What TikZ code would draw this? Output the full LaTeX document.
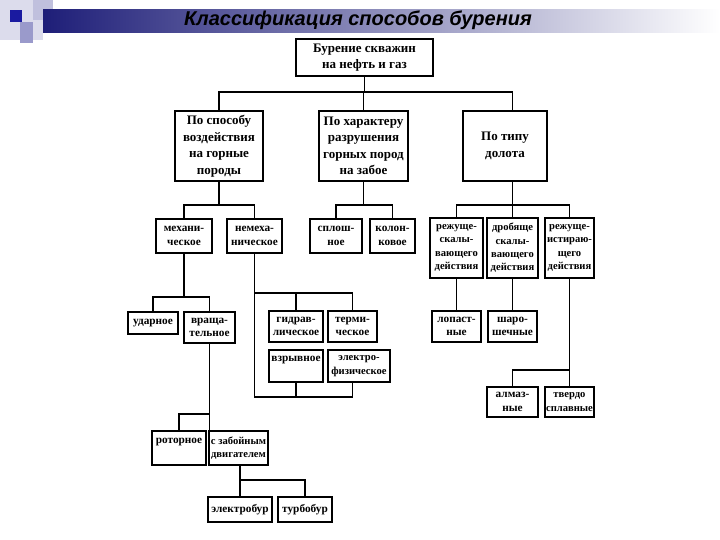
\documentclass[tikz,border=0pt]{standalone}
\usepackage{fontspec}
\setmainfont{Liberation Serif}
\newfontfamily\titlefont{Liberation Sans}
\definecolor{navyA}{HTML}{1E1E78}
\definecolor{darkSq}{HTML}{1A1AA0}
\definecolor{paleSq}{HTML}{DCDCEC}
\definecolor{midSq}{HTML}{9A9ACB}
\definecolor{lightSq}{HTML}{C0C0DD}
\newcommand{\mybox}[7][box]{\node[#1,minimum width={(#5)-(#3)},minimum height={(#6)-(#4)}] (#2) at ({((#3)+(#5))/2},{((#4)+(#6))/2}) {#7};}
\begin{document}
\begin{tikzpicture}[x=1pt,y=-1pt,
  box/.style={draw,line width=1.2pt,align=center,inner sep=0.5pt,font=\bfseries\fontsize{11.3}{13.5}\selectfont},
  tightbox/.style={box,font=\bfseries\fontsize{10.6}{13.3}\selectfont},
  bigbox/.style={box,font=\bfseries\fontsize{13}{16.5}\selectfont},
  conn/.style={line width=1.2pt}]
\useasboundingbox (0,0) rectangle (720,540);
\fill[white] (0,0) rectangle (720,540);
% header decoration
\fill[paleSq] (0,0) rectangle (43,40);
\fill[lightSq] (33,0) rectangle (53,20);
\fill[midSq] (20,22) rectangle (33,43);
\shade[left color=navyA, right color=white] (43,10) rectangle (720,33);
\fill[darkSq] (10,10) rectangle (22,22);
\node[font=\titlefont\bfseries\itshape\fontsize{20}{24}\selectfont] (title) at (358,20) {Классификация способов бурения};
% boxes
\mybox[bigbox]{top}{296}{39}{433}{76}{Бурение скважин\\на нефть и газ}
\mybox[bigbox]{b1}{175}{111}{263}{181}{По способу\\воздействия\\на горные\\породы}
\mybox[bigbox]{b2}{319}{111}{408}{181}{По характеру\\разрушения\\горных пород\\на забое}
\mybox[bigbox]{b3}{463}{111}{547}{181}{По типу\\долота}
\mybox{m1}{156}{219}{212}{253}{механи-\\ческое}
\mybox{m2}{227}{219}{282}{253}{немеха-\\ническое}
\mybox{s1}{310}{219}{362}{253}{сплош-\\ное}
\mybox{s2}{370}{219}{415}{253}{колон-\\ковое}
\mybox[tightbox]{d1}{430}{218}{483}{278}{режуще-\\скалы-\\вающего\\действия}
\mybox[tightbox]{d2}{487}{218}{538}{278}{дробяще\\скалы-\\вающего\\действия}
\mybox[tightbox]{d3}{545}{218}{594}{278}{режуще-\\истираю-\\щего\\действия}
\mybox{u1}{128}{312}{178}{334}{ударное}
\mybox{u2}{184}{312}{235}{343}{враща-\\тельное}
\mybox{n1}{269}{311}{323}{342}{гидрав-\\лическое}
\mybox{n2}{328}{311}{377}{342}{терми-\\ческое}
\mybox{n3}{269}{350}{323}{382}{взрывное\\\mbox{}}
\mybox[tightbox]{n4}{328}{350}{390}{382}{электро-\\физическое}
\mybox{l1}{432}{311}{481}{342}{лопаст-\\ные}
\mybox{l2}{488}{311}{537}{342}{шаро-\\шечные}
\mybox{a1}{487}{387}{538}{417}{алмаз-\\ные}
\mybox[tightbox]{a2}{545}{387}{594}{417}{твердо\\сплавные}
\mybox{r1}{152}{431}{206}{465}{роторное\\\mbox{}}
\mybox[tightbox]{z1}{209}{431}{268}{465}{с забойным\\двигателем}
\mybox{e1}{208}{497}{272}{522}{электробур}
\mybox{e2}{278}{497}{332}{522}{турбобур}
% junction levels
\coordinate (j0) at (0,92);
\coordinate (j1) at (0,205);
\coordinate (j2) at (0,297);
\coordinate (j3) at (0,293);
\coordinate (j4) at (0,397);
\coordinate (j5) at (0,370);
\coordinate (j6) at (0,414);
\coordinate (j7) at (0,480);
% connectors
\draw[conn] (top.south) -- (top.south |- j0);
\draw[conn] (b1.north) -- (b1.north |- j0) -- (d2.north |- j0) -- (b3.north -| d2.north);
\draw[conn] (b2.north) -- (b2.north |- j0);
\draw[conn] (b1.south) -- (b1.south |- j1);
\draw[conn] (m1.north) |- (m2.north |- j1) -- (m2.north);
\draw[conn] (b2.south) -- (b2.south |- j1);
\draw[conn] (s1.north) |- (s2.north |- j1) -- (s2.north);
\draw[conn] (b3.south -| d2.north) -- (d2.north);
\draw[conn] (d1.north) |- (d3.north |- j1) -- (d3.north);
\draw[conn] (m1.south) -- (m1.south |- j2);
\draw[conn] (u1.north) |- (u2.north |- j2) -- (u2.north);
\draw[conn] (m2.south) -- (m2.south |- j4) -| (n4.south -| n2.south);
\draw[conn] (m2.south |- j3) -| (n2.north);
\draw[conn] (n1.north) -- (n1.north |- j3);
\draw[conn] (n3.south) -- (n3.south |- j4);
\draw[conn] (d1.south) -- (l1.north);
\draw[conn] (d2.south) -- (l2.north);
\draw[conn] (d3.south) -- (a2.north);
\draw[conn] (d3.south |- j5) -| (a1.north);
\draw[conn] (u2.south) -- (u2.south |- z1.north);
\draw[conn] (r1.north) |- (u2.south |- j6);
\draw[conn] (z1.south -| e1.north) -- (e1.north);
\draw[conn] (e1.north |- j7) -| (e2.north);
\end{tikzpicture}
\end{document}
